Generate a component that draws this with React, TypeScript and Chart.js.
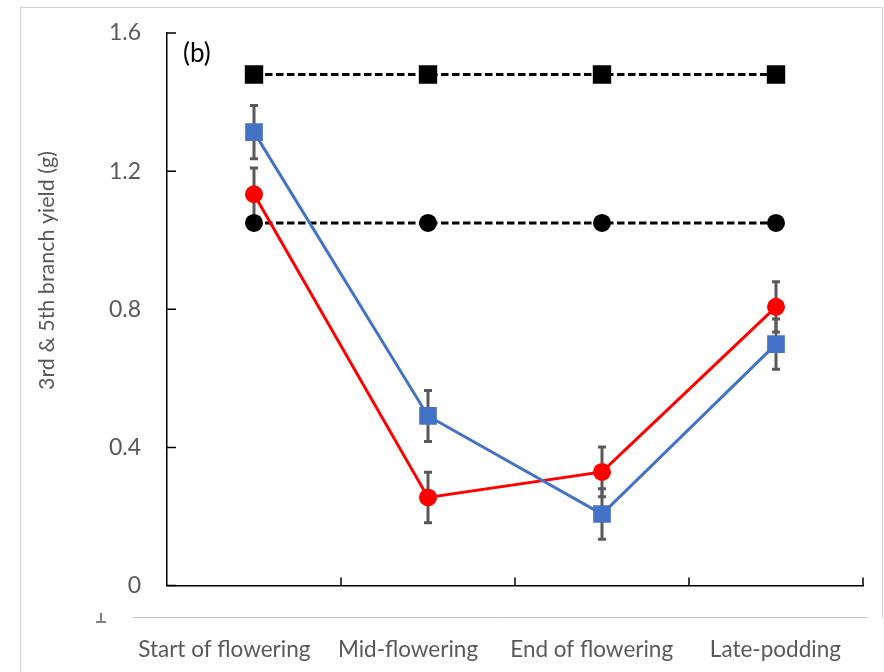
import React, { useEffect, useRef } from 'react';
import { Chart, registerables } from 'chart.js';

Chart.register(...registerables);

const categories = ['Start of flowering', 'Mid-flowering', 'End of flowering', 'Late-podding'];
const blueValues = [1.313, 0.491, 0.207, 0.699];
const blueErrors = [0.077, 0.074, 0.073, 0.073];
const redValues = [1.133, 0.255, 0.329, 0.807];
const redErrors = [0.076, 0.073, 0.072, 0.073];
const upperRefValues = [1.48, 1.48, 1.48, 1.48];
const lowerRefValues = [1.05, 1.05, 1.05, 1.05];
const yTickValues = [0, 0.4, 0.8, 1.2, 1.6];
const yTitle = '3rd & 5th branch yield (g)';
const panelLabel = '(b)';

const FONT = 'Lato, "Open Sans", sans-serif';
const GRAY_TEXT = '#595959';

// label axis geometry (the category labels sit on a wider, separate axis)
const LABEL_AXIS_MIN = -0.312;
const LABEL_AXIS_MAX = 3.477;

const decorPlugin = {
  id: 'decor',
  beforeDatasetsDraw(chart: any) {
    const ctx = chart.ctx;
    const yScale = chart.scales.y;
    const sets: Array<[number, number[], number[]]> = [
      [0, blueValues, blueErrors],
      [1, redValues, redErrors],
    ];
    ctx.save();
    ctx.strokeStyle = '#595959';
    ctx.lineWidth = 3;
    ctx.lineCap = 'butt';
    sets.forEach(([idx, vals, errs]) => {
      const meta = chart.getDatasetMeta(idx);
      vals.forEach((v, j) => {
        const x = meta.data[j].x;
        const yt = yScale.getPixelForValue(v + errs[j]);
        const yb = yScale.getPixelForValue(v - errs[j]);
        ctx.beginPath();
        ctx.moveTo(x, yt);
        ctx.lineTo(x, yb);
        ctx.moveTo(x - 4, yt);
        ctx.lineTo(x + 4, yt);
        ctx.moveTo(x - 4, yb);
        ctx.lineTo(x + 4, yb);
        ctx.stroke();
      });
    });
    ctx.restore();
  },
  afterDraw(chart: any) {
    const ctx = chart.ctx;
    const { left, top, bottom } = chart.chartArea;
    const yScale = chart.scales.y;
    const xScale = chart.scales.x;
    const xl = chart.scales.xl;
    ctx.save();
    // inward ticks on y axis
    ctx.strokeStyle = '#000';
    ctx.lineWidth = 1.5;
    ctx.beginPath();
    yTickValues.forEach((v) => {
      const y = yScale.getPixelForValue(v);
      ctx.moveTo(left, y);
      ctx.lineTo(left + 9, y);
    });
    // inward ticks on x axis (between categories)
    const step = (xScale.right - xScale.left) / categories.length;
    for (let i = 1; i <= categories.length; i++) {
      const x = xScale.left + step * i;
      ctx.moveTo(x, bottom);
      ctx.lineTo(x, bottom - 8);
    }
    ctx.stroke();

    // gray label axis line
    ctx.strokeStyle = '#bfbfbf';
    ctx.lineWidth = 1;
    ctx.beginPath();
    ctx.moveTo(xl.getPixelForValue(-0.5), xl.top + 0.5);
    ctx.lineTo(xl.getPixelForValue(categories.length - 0.5), xl.top + 0.5);
    ctx.stroke();

    // y title
    ctx.fillStyle = GRAY_TEXT;
    ctx.font = '21.5px ' + FONT;
    ctx.textAlign = 'center';
    ctx.textBaseline = 'middle';
    ctx.translate(left - 120, top + (bottom - top) * 0.43);
    ctx.rotate(-Math.PI / 2);
    ctx.fillText(yTitle, 0, 0);
    ctx.restore();

    // panel label
    ctx.save();
    ctx.fillStyle = '#000';
    ctx.font = '26px ' + FONT;
    ctx.textAlign = 'left';
    ctx.textBaseline = 'middle';
    ctx.fillText(panelLabel, left + 16, top + 21);
    ctx.restore();
  },
};

export default function App() {
  const ref = useRef<HTMLCanvasElement | null>(null);

  useEffect(() => {
    if (!ref.current) return;
    const chart = new Chart(ref.current, {
      type: 'line',
      data: {
        labels: categories,
        datasets: [
          {
            label: 'Series A',
            data: blueValues,
            borderColor: '#4472C4',
            backgroundColor: '#4472C4',
            borderWidth: 3,
            pointStyle: 'rect',
            pointRadius: 12.5,
            pointBorderWidth: 0,
            tension: 0,
          },
          {
            label: 'Series B',
            data: redValues,
            borderColor: '#FF0000',
            backgroundColor: '#FF0000',
            borderWidth: 3,
            pointStyle: 'circle',
            pointRadius: 9,
            pointBorderWidth: 0,
            tension: 0,
          },
          {
            label: 'Reference upper',
            data: upperRefValues,
            borderColor: '#000',
            backgroundColor: '#000',
            borderWidth: 3,
            borderDash: [7.5, 3.5],
            pointStyle: 'rect',
            pointRadius: 13,
            pointBorderWidth: 0,
            tension: 0,
          },
          {
            label: 'Reference lower',
            data: lowerRefValues,
            borderColor: '#000',
            backgroundColor: '#000',
            borderWidth: 3,
            borderDash: [7.5, 3.5],
            pointStyle: 'circle',
            pointRadius: 9,
            pointBorderWidth: 0,
            tension: 0,
          },
        ],
      },
      options: {
        responsive: false,
        animation: false,
        layout: { padding: { left: 0, right: 21, top: 33, bottom: 0 } },
        plugins: {
          legend: { display: false },
          tooltip: { enabled: false },
        },
        scales: {
          x: {
            type: 'category',
            position: 'bottom',
            weight: 0,
            offset: true,
            grid: { display: false, drawTicks: false },
            border: { display: true, color: '#000', width: 1.5 },
            ticks: { display: false },
            afterFit: (s: any) => {
              s.height = 31.5;
              s.paddingLeft = 0;
              s.paddingRight = 0;
            },
          },
          xl: {
            type: 'linear',
            position: 'bottom',
            weight: 1,
            min: LABEL_AXIS_MIN,
            max: LABEL_AXIS_MAX,
            grid: { display: false, drawTicks: false },
            border: { display: false },
            afterBuildTicks: (s: any) => {
              s.ticks = categories.map((_, i) => ({ value: i }));
            },
            ticks: {
              autoSkip: false,
              maxRotation: 0,
              padding: 19,
              color: GRAY_TEXT,
              font: { family: FONT, size: 22.5 },
              callback: (v: any) => categories[Math.round(v)] ?? '',
            },
            afterFit: (s: any) => {
              s.height = 55;
              s.paddingLeft = 0;
              s.paddingRight = 0;
            },
          },
          y: {
            type: 'linear',
            min: 0,
            max: 1.6,
            grid: { display: false, drawTicks: false },
            border: { display: true, color: '#000', width: 1.5 },
            afterBuildTicks: (s: any) => {
              s.ticks = yTickValues.map((v) => ({ value: v }));
            },
            ticks: {
              padding: 26,
              color: GRAY_TEXT,
              font: { family: FONT, size: 23 },
              callback: (v: any) => (v === 0 ? '0' : Number(v).toFixed(1)),
            },
            afterFit: (s: any) => {
              s.width = 167;
              s.paddingTop = 0;
              s.paddingBottom = 0;
            },
          },
        },
      },
      plugins: [decorPlugin],
    });
    return () => chart.destroy();
  }, []);

  return (
    <div style={{ position: 'absolute', left: 0, top: 0, width: 884, height: 672, background: '#fff', overflow: 'hidden' }}>
      <div style={{ position: 'absolute', left: 20, top: 7, width: 862, height: 610, borderTop: '1px solid #d4d4d4', borderRight: '1px solid #d4d4d4' }} />
      <div style={{ position: 'absolute', left: 20, top: 7, width: 0, height: 665, borderLeft: '1px solid #d4d4d4' }} />
      <div style={{ position: 'absolute', left: 100, top: 613, width: 0, height: 9, borderLeft: '2px solid #7f7f7f' }} />
      <div style={{ position: 'absolute', left: 96, top: 621, width: 10, height: 0, borderTop: '2px solid #7f7f7f' }} />
      <canvas ref={ref} width={884} height={672} style={{ position: 'absolute', left: 0, top: 0 }} />
    </div>
  );
}
